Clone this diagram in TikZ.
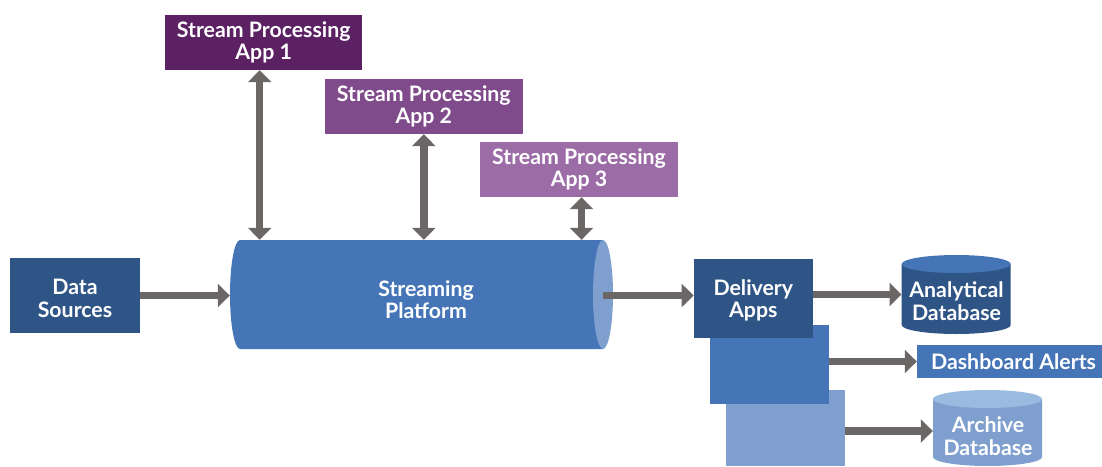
\documentclass[tikz,border=0pt]{standalone}
\usepackage{fontspec}
\setmainfont{Lato}
\usetikzlibrary{arrows.meta,calc}
\definecolor{appone}{RGB}{91,33,99}
\definecolor{apptwo}{RGB}{127,75,139}
\definecolor{appthree}{RGB}{156,108,166}
\definecolor{darkblue}{RGB}{47,85,135}
\definecolor{midblue}{RGB}{70,117,183}
\definecolor{lightblue}{RGB}{127,160,207}
\definecolor{paleblue}{RGB}{154,187,224}
\definecolor{arrowgray}{RGB}{108,103,103}
\begin{document}
\begin{tikzpicture}[x=1pt,y=1pt,
  box/.style={rectangle, inner sep=0pt, text=white, align=center,
    font=\fontsize{21.3}{22.5}\selectfont\bfseries},
  txt/.style={inner sep=0pt, text=white, align=center,
    font=\fontsize{21.3}{22.5}\selectfont\bfseries},
  conn/.style={draw=arrowgray, line width=7.5pt, -{Triangle[width=23pt,length=12pt]}},
  dconn/.style={draw=arrowgray, line width=7.5pt,
    {Triangle[width=23pt,length=12pt]}-{Triangle[width=23pt,length=12pt]}}]
\useasboundingbox (0,0) rectangle (1102,-466);

% cylinders (shapes)
\fill[midblue] (603,-240) -- (240,-240) arc[start angle=90,end angle=270,x radius=10,y radius=54.5] -- (603,-349) -- cycle;
\fill[lightblue] (603,-294.5) ellipse[x radius=10,y radius=54.5];
\fill[darkblue] (901.7,-264) -- (901.7,-325) arc[start angle=180,end angle=360,x radius=54.5,y radius=9] -- (1010.7,-264) -- cycle;
\fill[midblue] (956.2,-264) ellipse[x radius=54.5,y radius=9];
\fill[lightblue] (933,-399) -- (933,-457) arc[start angle=180,end angle=360,x radius=54.5,y radius=9] -- (1042,-399) -- cycle;
\fill[paleblue] (987.5,-399) ellipse[x radius=54.5,y radius=9];

% named regions for the cylinders
\node[box, minimum width=383pt, minimum height=109pt] (sp) at (421.5,-294.5) {};
\node[txt] (spt) at (426,-299.5) {Streaming\\Platform};
\node[box, minimum width=109pt, minimum height=79pt] (adb) at (956.2,-294.5) {};
\node[txt] (adbt) at (956.5,-301) {Analytical\\Database};
\node[box, minimum width=109pt, minimum height=76pt] (arch) at (987.5,-428) {};
\node[txt] (archt) at (988,-436) {Archive\\Database};
\coordinate (spend) at (603,-295.5);

% boxes
\node[box, fill=appone, minimum width=197pt, minimum height=55pt] (app1) at (263.7,-42.5) {Stream Processing\\App 1};
\node[box, fill=apptwo, minimum width=198pt, minimum height=55pt] (app2) at (423.8,-106.5) {Stream Processing\\App 2};
\node[box, fill=appthree, minimum width=198pt, minimum height=55pt] (app3) at (579,-169.5) {Stream Processing\\App 3};
\node[box, fill=darkblue, minimum width=130pt, minimum height=75pt] (ds) at (75,-295.5) {};
\node[txt] (dst) at (75,-298.5) {Data\\Sources};
\node[box, fill=lightblue, minimum width=119pt, minimum height=76pt] (d3) at (785.5,-428) {};
\node[box, fill=midblue, minimum width=119pt, minimum height=79pt] (d2) at (769.5,-364.5) {};
\node[box, fill=darkblue, minimum width=119pt, minimum height=79pt] (del) at (753.3,-298.5) {};
\node[txt] (delt) at (753.3,-300.5) {Delivery\\Apps};
\node[box, fill=midblue, minimum width=185pt, minimum height=33pt] (dash) at (1009.5,-361.5) {\hspace*{8pt}Dashboard Alerts};

% connectors
\coordinate (a1) at ($(app1.south)+(-4,0)$);
\draw[dconn] (a1) -- (a1 |- sp.north);
\draw[dconn] (app2.south) -- (app2.south |- sp.north);
\coordinate (a3) at ($(app3.south)+(2.5,0)$);
\draw[dconn] (a3) -- (a3 |- sp.north);
\draw[conn] (ds.east) -- (ds.east -| sp.west);
\draw[conn] (spend) -- (spend -| del.west);
\draw[conn] (adb.west -| del.east) -- (adb.west);
\draw[conn] (dash.west -| d2.east) -- (dash.west);
\coordinate (c3) at ($(d3.east)+(0,-3)$);
\draw[conn] (c3) -- (c3 -| arch.west);
\end{tikzpicture}
\end{document}
